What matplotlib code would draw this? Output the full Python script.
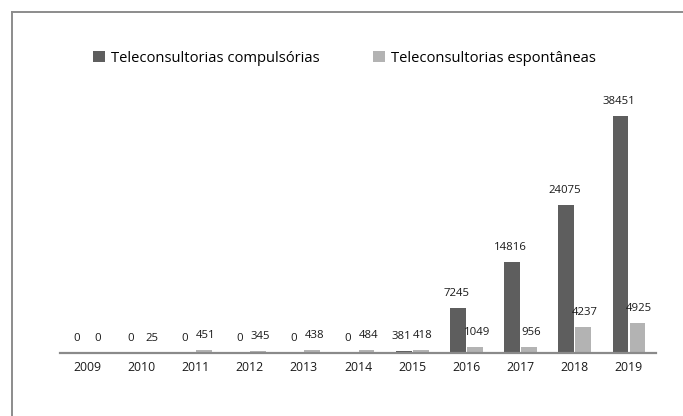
import matplotlib
matplotlib.use("Agg")
import matplotlib.pyplot as plt
from matplotlib.lines import Line2D
from matplotlib.patches import Patch
import numpy as np

years = ["2009", "2010", "2011", "2012", "2013", "2014", "2015", "2016", "2017", "2018", "2019"]
compulsorias = [0, 0, 0, 0, 0, 0, 381, 7245, 14816, 24075, 38451]
espontaneas = [0, 25, 451, 345, 438, 484, 418, 1049, 956, 4237, 4925]
series_names = ["Teleconsultorias compulsórias", "Teleconsultorias espontâneas"]

DARK = "#5e5e5e"
LIGHT = "#b3b3b3"
FONT = "Open Sans"
plt.rcParams["font.family"] = [FONT, "DejaVu Sans"]

W, H = 683, 416
fig = plt.figure(figsize=(W / 100, H / 100), dpi=100)
ax = fig.add_axes([60 / W, (H - 353) / H, 596 / W, 277 / H])

x = np.arange(len(years))
bw = 0.29
off = 0.157
b1 = ax.bar(x - off, compulsorias, bw, color=DARK, zorder=2)
b2 = ax.bar(x + off, espontaneas, bw, color=LIGHT, zorder=2)

LABEL_FS = 8.2
for bars, vals, dx in ((b1, compulsorias, -1.3), (b2, espontaneas, 1.3)):
    for rect, v in zip(bars, vals):
        ax.annotate(str(v), (rect.get_x() + rect.get_width() / 2, rect.get_height()),
                    xytext=(dx, 6.5), textcoords="offset points", ha="center", va="bottom",
                    fontsize=LABEL_FS, color="#1a1a1a")

ax.set_xlim(-0.5, len(years) - 0.5)
ax.set_ylim(0, 45000)
ax.set_xticks(x)
ax.set_xticklabels(years, fontsize=8.8, color="#1a1a1a")
ax.tick_params(axis="x", length=0, pad=6)
ax.set_yticks([])
for s in ["top", "right", "left"]:
    ax.spines[s].set_visible(False)
ax.spines["bottom"].set_color("#8a8a8a")
ax.spines["bottom"].set_linewidth(1.6)
ax.set_facecolor("none")

handles = [Patch(facecolor=DARK, edgecolor="none"), Patch(facecolor=LIGHT, edgecolor="none")]
fig.legend(handles, series_names, loc="center left", bbox_to_anchor=(93 / W, 1 - 58 / H),
           ncol=2, frameon=False, fontsize=10.6, handlelength=0.82, handleheight=0.82,
           handletextpad=0.42, columnspacing=3.6, borderaxespad=0, borderpad=0)

# outer frame (clipped on right and bottom)
fig.add_artist(Line2D([12 / W, 12 / W], [0, 1 - 12 / H], transform=fig.transFigure,
                      color="#8c8c8c", lw=1.4))
fig.add_artist(Line2D([12 / W, 1], [1 - 12 / H, 1 - 12 / H], transform=fig.transFigure,
                      color="#8c8c8c", lw=1.4))

fig.savefig("out.png", dpi=100)
